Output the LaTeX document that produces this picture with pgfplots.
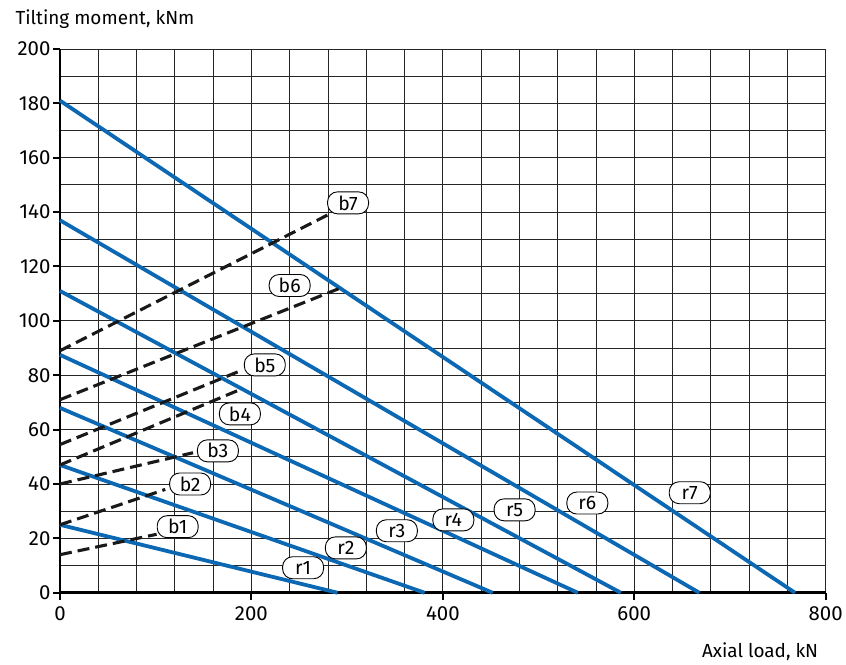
\documentclass[border=0pt]{standalone}
\usepackage{fontspec}
\setmainfont{Fira Sans}
\usepackage{pgfplots}
\pgfplotsset{compat=1.18}
\usetikzlibrary{calc}
\definecolor{lineblue}{RGB}{12,104,178}
\begin{document}
\begin{tikzpicture}
\tikzset{lbl/.style={draw, fill=white, rounded corners=10bp, line width=0.9bp, inner xsep=6bp, inner ysep=0.5bp, minimum height=22bp, minimum width=41bp, font=\fontsize{19.5}{22}\selectfont},
 rl/.style={lineblue, line width=3.8bp},
 bl/.style={black!90, line width=3.1bp, dash pattern=on 12bp off 6bp}}
\begin{axis}[
 scale only axis, width=766bp, height=544bp,
 xmin=0, xmax=800, ymin=0, ymax=200,
 axis lines=left, axis line style={line width=2.6bp,-},
 xtick={0,200,...,800}, ytick={0,20,...,200},
 minor xtick={40,80,...,760}, minor ytick={10,30,...,190},
 grid=both,
 major grid style={black!85,line width=0.9bp},
 minor grid style={black!85,line width=0.9bp},
 tick align=outside, major tick length=7bp, minor tick length=0pt,
 tick style={black,line width=2bp},
 ticklabel style={font=\fontsize{20.5}{24}\selectfont},
 yticklabel style={xshift=1bp},
 xticklabel style={yshift=-3bp},
 /pgf/number format/assume math mode=true,
 clip=false,
]
\addplot[rl] coordinates {(0,25) (290,0)};
\addplot[rl] coordinates {(0,47) (381,0)};
\addplot[rl] coordinates {(0,68) (452,0)};
\addplot[rl] coordinates {(0,87.5) (541,0)};
\addplot[rl] coordinates {(0,111) (586,0)};
\addplot[rl] coordinates {(0,137) (668,0)};
\addplot[rl] coordinates {(0,181) (768,0)};
\addplot[bl] coordinates {(0,14) (101,21.5)};
\addplot[bl] coordinates {(0,25) (110,38)};
\addplot[bl] coordinates {(0,40) (139,51.5)};
\addplot[bl] coordinates {(0,47) (190,75)};
\addplot[bl] coordinates {(0,54.5) (191,82)};
\addplot[bl] coordinates {(0,71) (296,112.5)};
\addplot[bl] coordinates {(0,89) (280,139)};
\node[lbl] at (axis cs:123,24.3) {b1};
\node[lbl] at (axis cs:136,40) {b2};
\node[lbl] at (axis cs:165,52.2) {b3};
\node[lbl] at (axis cs:188,65.8) {b4};
\node[lbl] at (axis cs:214,83.8) {b5};
\node[lbl] at (axis cs:240,113) {b6};
\node[lbl] at (axis cs:301,143.4) {b7};
\node[lbl] at (axis cs:254,9.2) {r1};
\node[lbl] at (axis cs:298.7,16.5) {r2};
\node[lbl] at (axis cs:352,22.8) {r3};
\node[lbl] at (axis cs:411,26.8) {r4};
\node[lbl] at (axis cs:475,30.5) {r5};
\node[lbl] at (axis cs:551,33) {r6};
\node[lbl] at (axis cs:658,36.8) {r7};
\end{axis}
\node[anchor=base west, font=\fontsize{19}{22}\selectfont] at ($(current axis.north west)+(-48bp,24bp)$) {Tilting moment, kNm};
\node[anchor=base east, font=\fontsize{19}{22}\selectfont] at ($(current axis.south east)+(-4bp,-65bp)$) {Axial load, kN};
\path ($(current axis.south west)+(-60bp,-72bp)$) rectangle ($(current axis.north east)+(20bp,49bp)$);
\end{tikzpicture}
\end{document}
